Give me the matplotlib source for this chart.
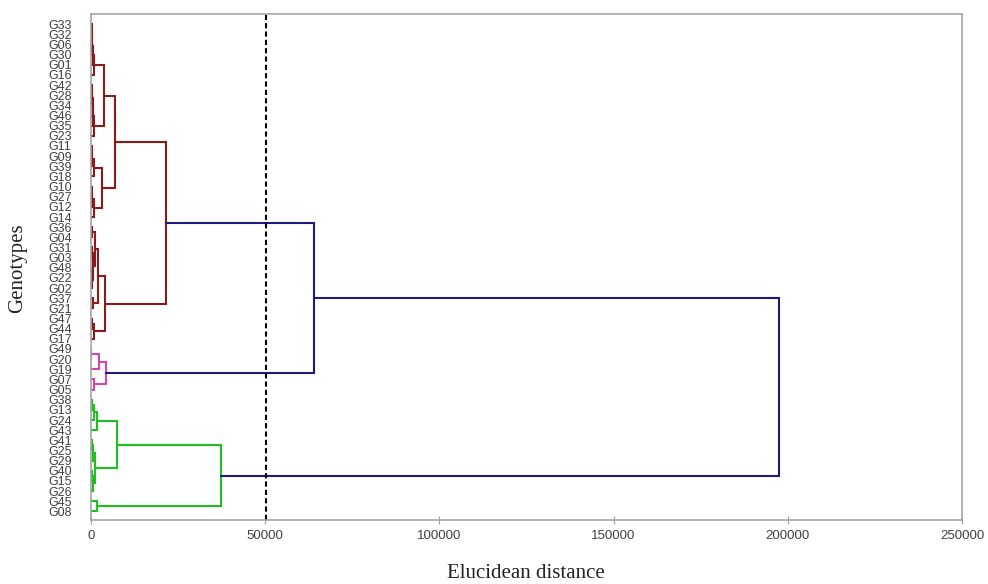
import numpy as np
import matplotlib
matplotlib.use('Agg')
from matplotlib import pyplot as plt

# leaf order, top to bottom
genotypes = ['G33', 'G32', 'G06', 'G30', 'G01', 'G16', 'G42', 'G28', 'G34', 'G46',
             'G35', 'G23', 'G11', 'G09', 'G39', 'G18', 'G10', 'G27', 'G12', 'G14',
             'G36', 'G04', 'G31', 'G03', 'G48', 'G22', 'G02', 'G37', 'G21', 'G47',
             'G44', 'G17', 'G49', 'G20', 'G19', 'G07', 'G05', 'G38', 'G13', 'G24',
             'G43', 'G41', 'G25', 'G29', 'G40', 'G15', 'G26', 'G45', 'G08']

# merges: (new node, left child, right child, distance)
merges = [
    ('a1', 'G33', 'G32', 150), ('a2', 'a1', 'G06', 250), ('a3', 'a2', 'G30', 350),
    ('a4', 'a3', 'G01', 500), ('A1a', 'a4', 'G16', 900),
    ('b1', 'G42', 'G28', 150), ('b2', 'b1', 'G34', 300), ('b3', 'b2', 'G46', 450),
    ('b4', 'b3', 'G35', 600), ('A1b', 'b4', 'G23', 900),
    ('A1', 'A1a', 'A1b', 3700),
    ('c1', 'G11', 'G09', 200), ('c2', 'c1', 'G39', 400), ('A2a', 'c2', 'G18', 800),
    ('d1', 'G10', 'G27', 200), ('d2', 'd1', 'G12', 400), ('A2b', 'd2', 'G14', 900),
    ('A2', 'A2a', 'A2b', 3100),
    ('A', 'A1', 'A2', 6900),
    ('e1', 'G36', 'G04', 200), ('e2', 'G31', 'G03', 150), ('e3', 'G48', 'G22', 100),
    ('e4', 'e3', 'G02', 400), ('e5', 'e2', 'e4', 700), ('B1a', 'e1', 'e5', 1200),
    ('B1b', 'G37', 'G21', 500), ('B1', 'B1a', 'B1b', 2100),
    ('f1', 'G47', 'G44', 300), ('B2', 'f1', 'G17', 900),
    ('B', 'B1', 'B2', 4000),
    ('RED', 'A', 'B', 21500),
    ('p1', 'G49', 'G20', 100), ('p2', 'p1', 'G19', 2300), ('p3', 'G07', 'G05', 900),
    ('PINK', 'p2', 'p3', 4200),
    ('g1', 'G38', 'G13', 250), ('g2', 'g1', 'G24', 850), ('g3', 'g2', 'G43', 1700),
    ('h1', 'G41', 'G25', 300), ('h2', 'h1', 'G29', 600), ('h3', 'G40', 'G15', 200),
    ('h4', 'h3', 'G26', 500), ('h5', 'h2', 'h4', 1150),
    ('g4', 'g3', 'h5', 7500), ('g5', 'G45', 'G08', 1600),
    ('GREEN', 'g4', 'g5', 37300),
    ('RP', 'RED', 'PINK', 64000),
    ('ROOT', 'RP', 'GREEN', 197500),
]

cut_distance = 50300
xticks = [0, 50000, 100000, 150000, 200000, 250000]

cluster_colors = {'RED': '#8c1a1a', 'PINK': '#d646a6', 'GREEN': '#1ec21e'}
link_color = '#1c1c80'

# positions of nodes
ypos = {g: i for i, g in enumerate(genotypes)}
xpos = {g: 0.0 for g in genotypes}
children = {}
for node, l, r, h in merges:
    ypos[node] = (ypos[l] + ypos[r]) / 2
    xpos[node] = h
    children[node] = (l, r)

# colour of each node: inherited from cluster root
node_color = {}
def paint(node, c):
    node_color[node] = c
    if node in children:
        for ch in children[node]:
            paint(ch, c)
for k, c in cluster_colors.items():
    paint(k, c)

fig = plt.figure(figsize=(9.88, 5.84), dpi=100)
ax = fig.add_axes([91/988, 1-520/584, (962-91)/988, (520-14)/584])

for node, l, r, h in merges:
    c = node_color.get(node, link_color)
    ax.plot([xpos[l], h, h, xpos[r]], [ypos[l], ypos[l], ypos[r], ypos[r]],
            color=c, lw=1.5, solid_joinstyle='miter')

ax.axvline(cut_distance, color='black', lw=1.5, ls=(0, (2.5, 1.5)))

ax.set_xlim(0, 250000)
ax.set_ylim(len(genotypes) - 1 + 0.85, -1.0)
ax.set_xticks(xticks)
ax.set_xticklabels([str(t) for t in xticks], family='Liberation Sans', fontsize=9.5, color='#404040')
ax.set_yticks(range(len(genotypes)))
ax.set_yticklabels(genotypes, family='Liberation Sans', fontsize=9, color='#404040')
ax.tick_params(axis='y', length=0, pad=14)
ax.tick_params(axis='x', direction='inout', length=6, color='#a0a0a0', pad=4)
for s in ax.spines.values():
    s.set_color('#a6a6a6')
    s.set_linewidth(1.2)

fig.text(526/988, 1-573/584, 'Elucidean distance', family='Liberation Serif',
         fontsize=15, ha='center', va='center', color='#222222')
fig.text(18/988, 1-268/584, 'Genotypes', family='Liberation Serif',
         fontsize=15, ha='center', va='center', rotation=90, color='#222222')

fig.savefig('out.png', dpi=100)
